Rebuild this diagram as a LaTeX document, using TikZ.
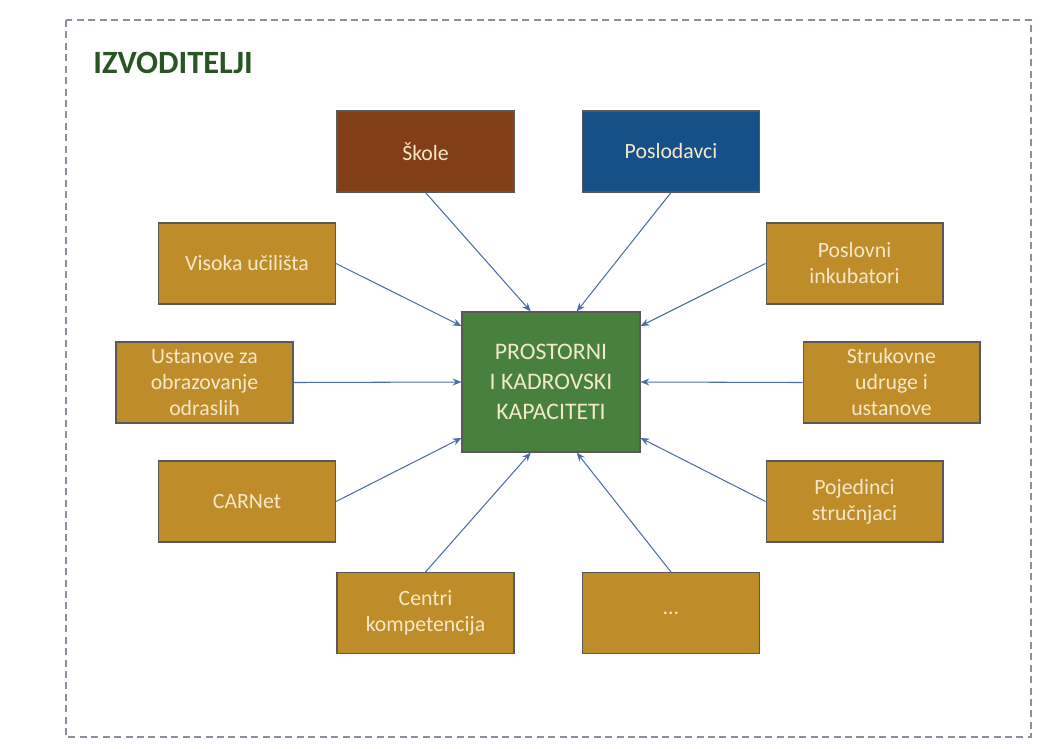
\documentclass[tikz,border=0pt]{standalone}
\usepackage{fontspec}
\setmainfont{Carlito}
\usetikzlibrary{arrows.meta}

\definecolor{zlato}{RGB}{190,140,40}
\definecolor{smeda}{RGB}{132,62,22}
\definecolor{plava}{RGB}{22,80,136}
\definecolor{zelena}{RGB}{72,128,62}
\definecolor{naslovna}{RGB}{40,85,35}
\definecolor{krem}{RGB}{245,232,200}
\definecolor{strelica}{RGB}{75,110,170}
\definecolor{okvir}{RGB}{135,145,160}

\begin{document}
\begin{tikzpicture}[x=0.02cm,y=-0.02cm,
    kutija/.style={draw=black!65,line width=0.6pt,fill=zlato,text=krem,
      minimum width=3.54cm,minimum height=1.62cm,align=center,inner sep=2pt,
      font=\fontsize{12.4}{14.8}\selectfont},
    veza/.style={->,draw=strelica,line width=0.6pt},
    >={Stealth[length=5pt,width=4pt]}]
  \useasboundingbox (0,0) rectangle (1058,748);
  \draw[okvir,line width=0.6pt,dash pattern=on 4pt off 2.5pt] (66,20) rectangle (1031,737);

  \node [anchor=base west,inner sep=0pt,text=naslovna,font=\bfseries\fontsize{18.5}{22}\selectfont] (naslov) at (93,73) {IZVODITELJI};

  \node [kutija,fill=zelena,minimum width=3.56cm,minimum height=2.8cm,
    font=\fontsize{13.5}{17}\selectfont] (0) at (551,382) {PROSTORNI\\I KADROVSKI\\KAPACITETI};
  \node [kutija,fill=smeda] (1) at (425.5,151.5) {Škole};
  \node [kutija,fill=plava] (2) at (671,151.5) {Poslodavci};
  \node [kutija] (3) at (247,263.5) {Visoka učilišta};
  \node [kutija] (4) at (854.5,263.5) {Poslovni\\inkubatori};
  \node [kutija] (5) at (204.5,382.5) {Ustanove za\\obrazovanje\\odraslih};
  \node [kutija] (6) at (891.5,382.5) {Strukovne\\udruge i\\ustanove};
  \node [kutija] (7) at (247,501.5) {CARNet};
  \node [kutija] (8) at (854.5,501.5) {Pojedinci\\stručnjaci};
  \node [kutija] (9) at (425.5,613) {Centri\\kompetencija};
  \node [kutija] (10) at (671,613) {…};

  \draw[veza] (1.south) -- (0.106);
  \draw[veza] (2.south) -- (0.70);
  \draw[veza] (3.east) -- (0.148);
  \draw[veza] (4.west) -- (0.32);
  \draw[veza] (5.east) -- (0.west);
  \draw[veza] (6.west) -- (0.east);
  \draw[veza] (7.east) -- (0.212);
  \draw[veza] (8.west) -- (0.328);
  \draw[veza] (9.north) -- (0.254);
  \draw[veza] (10.north) -- (0.290);
\end{tikzpicture}
\end{document}
